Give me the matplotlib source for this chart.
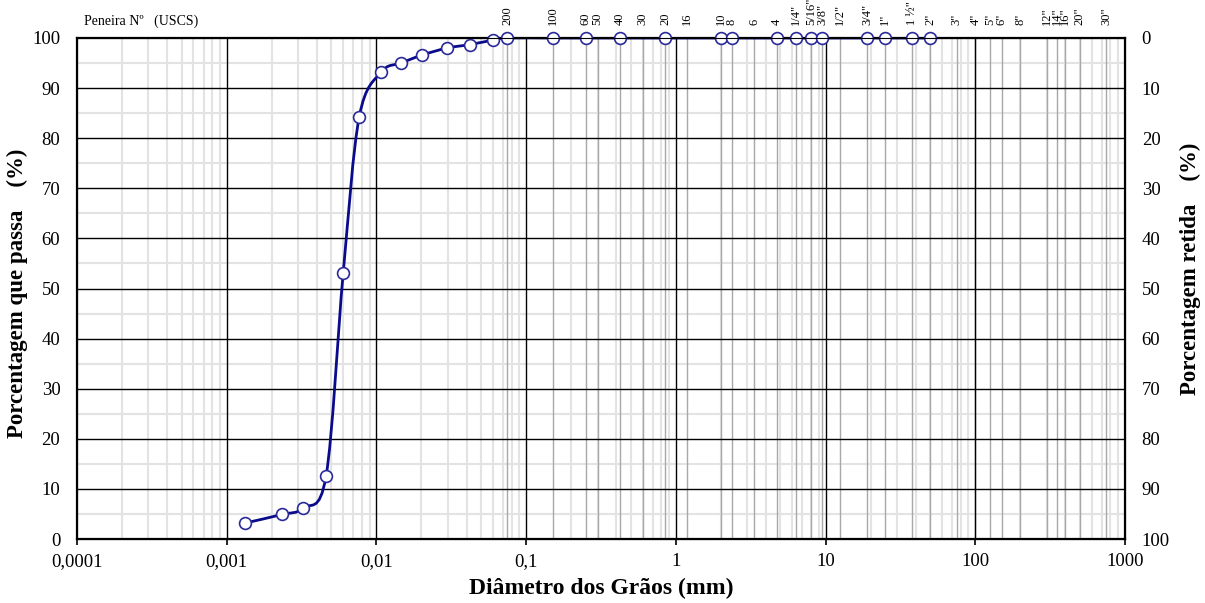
import numpy as np
import matplotlib
matplotlib.use('Agg')
import matplotlib.pyplot as plt
from matplotlib.path import Path
from matplotlib.patches import PathPatch
from matplotlib.ticker import FixedLocator, NullFormatter

plt.rcParams['font.family'] = ['Liberation Serif', 'DejaVu Serif']

# curva granulométrica (diâmetro em mm, % que passa)
diametro = [0.00133, 0.00234, 0.00324, 0.00461, 0.0060, 0.00767, 0.01076,
            0.01465, 0.0202, 0.0297, 0.0424, 0.0604, 0.075, 0.15, 0.25,
            0.425, 0.85, 2.0, 2.36, 4.75, 6.3, 8.0, 9.5, 19.0, 25.0, 37.5, 50.0]
passa = [3.2, 4.9, 6.2, 12.6, 53.1, 84.2, 93.2, 95.0, 96.6, 98.0, 98.7,
         99.6, 100, 100, 100, 100, 100, 100, 100, 100, 100, 100, 100, 100,
         100, 100, 100]

# peneiras (USCS)
peneiras = ['200', '100', '60', '50', '40', '30', '20', '16', '10', '8', '6',
            '4', '1/4"', '5/16"', '3/8"', '1/2"', '3/4"', '1"', '1 ½"', '2"',
            '3"', '4"', '5"', '6"', '8"', '12"', '14"', '16"', '20"', '30"']
aberturas = [0.075, 0.15, 0.25, 0.3, 0.425, 0.6, 0.85, 1.18, 2.0, 2.36, 3.35,
             4.75, 6.3, 8.0, 9.5, 12.5, 19.0, 25.0, 37.5, 50.0, 75, 100, 125,
             150, 200, 300, 350, 400, 500, 750]

x_ticks = [0.0001, 0.001, 0.01, 0.1, 1, 10, 100, 1000]
x_labels = ['0,0001', '0,001', '0,01', '0,1', '1', '10', '100', '1000']

fig = plt.figure(figsize=(12.05, 6.03), dpi=100)
ax = fig.add_axes([0.0639, 0.1061, 0.8697, 0.8309])
ax.set_xscale('log')
ax.set_xlim(0.0001, 1000)
ax.set_ylim(0, 100)

# grade
minors = [m * 10.0 ** e for e in range(-4, 3) for m in range(2, 10)]
for v in minors:
    ax.axvline(v, color='#e3e3e3', lw=1.5, zorder=0)
for v in range(5, 100, 10):
    ax.axhline(v, color='#e3e3e3', lw=1.5, zorder=0)
for v in aberturas:
    ax.axvline(v, color='#a8a8a8', lw=1.0, zorder=1)
for v in x_ticks[1:-1]:
    ax.axvline(v, color='black', lw=1.0, zorder=1)
for v in range(10, 100, 10):
    ax.axhline(v, color='black', lw=1.0, zorder=1)

# linha suavizada (Bezier tipo Catmull-Rom em log x)
lx = np.log10(diametro)
py = np.array(passa, dtype=float)
n = len(lx)
verts = [(diametro[0], passa[0])]
codes = [Path.MOVETO]
for i in range(n - 1):
    i0 = max(i - 1, 0)
    i3 = min(i + 2, n - 1)
    c1x = lx[i] + (lx[i + 1] - lx[i0]) / 6
    c1y = py[i] + (py[i + 1] - py[i0]) / 6
    c2x = lx[i + 1] - (lx[i3] - lx[i]) / 6
    c2y = py[i + 1] - (py[i3] - py[i]) / 6
    verts += [(10 ** c1x, c1y), (10 ** c2x, c2y), (diametro[i + 1], passa[i + 1])]
    codes += [Path.CURVE4] * 3
curva = PathPatch(Path(verts, codes), facecolor='none', edgecolor='#0a0a8c',
                  lw=2.0, zorder=3)
ax.add_patch(curva)
ax.plot(diametro, passa, linestyle='none', marker='o', markersize=8.5,
        markerfacecolor='white', markeredgecolor='#2a2a9a',
        markeredgewidth=1.2, zorder=4, clip_on=False)

# eixos
ax.xaxis.set_major_locator(FixedLocator(x_ticks))
ax.set_xticklabels(x_labels)
ax.xaxis.set_minor_locator(FixedLocator([]))
ax.xaxis.set_minor_formatter(NullFormatter())
ax.set_yticks(range(0, 101, 10))
ax.tick_params(axis='both', labelsize=13.5, length=4, width=1.2,
               direction='out')
ax.tick_params(axis='x', pad=6)
ax.tick_params(axis='y', length=0, pad=12)
for s in ax.spines.values():
    s.set_linewidth(1.6)

ax.set_xlabel('Diâmetro dos Grãos (mm)', fontsize=17, fontweight='bold',
              labelpad=6)
ax.set_ylabel('Porcentagem que passa    (%)', fontsize=16.5, fontweight='bold')
ax.yaxis.set_label_coords(-0.047, 0.49)

ax2 = ax.twinx()
ax2.set_ylim(100, 0)
ax2.set_yticks(range(0, 101, 10))
ax2.tick_params(axis='y', labelsize=13.5, length=0, pad=12)
ax2.set_ylabel('Porcentagem retida    (%)', fontsize=16.5, fontweight='bold')
ax2.yaxis.set_label_coords(1.052, 0.54)

# rótulos das peneiras
for nome, ab in zip(peneiras, aberturas):
    ax.text(ab, 102.6, nome, rotation=90, ha='center', va='bottom',
            fontsize=9, transform=ax.transData, clip_on=False)
ax.text(0.0001 * 10 ** 0.05, 102.0, 'Peneira Nº   (USCS)', fontsize=10,
        ha='left', va='bottom')

fig.savefig('out.png', dpi=100)
